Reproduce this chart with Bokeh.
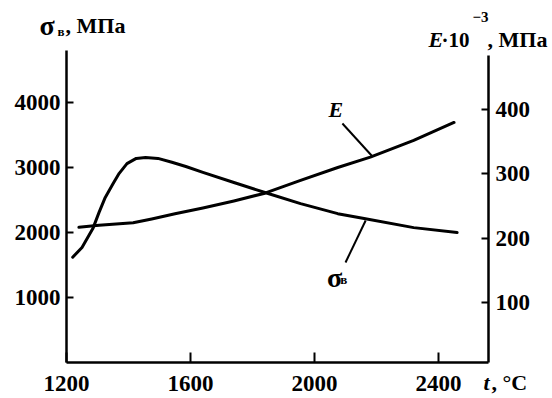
from bokeh.plotting import figure
from bokeh.models import Range1d, LinearAxis, FixedTicker, Label
from bokeh.embed import file_html
from bokeh.resources import INLINE

# ---- data ----
temp_sigma = [1220, 1250, 1285, 1305, 1325, 1350, 1370, 1395, 1425, 1455, 1495,
              1540, 1585, 1640, 1740, 1840, 1955, 2075, 2160, 2320, 2460]
sigma_b = [1620, 1770, 2060, 2310, 2540, 2750, 2910, 3060, 3140, 3155, 3140,
           3080, 3015, 2925, 2770, 2615, 2445, 2290, 2215, 2075, 2000]

temp_e = [1240, 1305, 1415, 1475, 1550, 1640, 1740, 1840, 1955, 2075, 2180, 2320, 2450]
e_modulus = [217, 220, 224, 230, 238, 247, 258, 270, 290, 310, 326, 352, 380]

x_ticks = [1200, 1600, 2000, 2400]
sigma_ticks = [1000, 2000, 3000, 4000]
e_ticks = [100, 200, 300, 400]

# axis extents
t_bounds = (1200, 2561)
sigma_bounds = (0, 4800)
e_bounds = (6.7, 484)

# annotation anchors (data units of temperature / sigma axis)
e_label_pos = (2045, 3890)
e_leader_x = [2090, 2187]
e_leader_y = [3677, 3169]
s_label_pos = (2040, 1310)
s_sub_pos = (2083, 1280)
s_leader_x = [2100, 2165]
s_leader_y = [1538, 2185]

FONT = "Liberation Serif"

# the frame fills the canvas; axes are pinned with fixed_location
p = figure(width=552, height=398, output_backend="svg", toolbar_location=None,
           x_range=Range1d(987.1, 2767.7), y_range=Range1d(-553.8, 5569.2),
           x_axis_type=None, y_axis_type=None,
           min_border=0)
p.outline_line_color = None
p.background_fill_color = "white"
p.border_fill_color = "white"
p.extra_y_ranges = {"E": Range1d(-49.3, 569.7)}


def style_axis(ax, tick_in):
    ax.axis_line_width = 2.5
    ax.axis_line_color = "black"
    ax.major_tick_in = tick_in
    ax.major_tick_out = 0
    ax.major_tick_line_width = 2
    ax.minor_tick_line_color = None
    ax.major_label_text_font = FONT
    ax.major_label_text_font_style = "bold"
    ax.major_label_text_font_size = "23px"
    ax.major_label_text_color = "black"


xb = LinearAxis(ticker=FixedTicker(ticks=x_ticks), fixed_location=sigma_bounds[0],
                bounds=t_bounds)
style_axis(xb, 10)
xb.major_label_standoff = 13
p.add_layout(xb, "below")

yl = LinearAxis(ticker=FixedTicker(ticks=sigma_ticks), fixed_location=t_bounds[0],
                bounds=sigma_bounds)
style_axis(yl, 7)
yl.major_label_standoff = 6
p.add_layout(yl, "left")

yr = LinearAxis(ticker=FixedTicker(ticks=e_ticks), y_range_name="E",
                fixed_location=t_bounds[1], bounds=e_bounds)
style_axis(yr, 7)
yr.major_label_standoff = 7
p.add_layout(yr, "right")

p.line(temp_sigma, sigma_b, line_color="black", line_width=3, line_cap="round", line_join="round")
p.line(temp_e, e_modulus, y_range_name="E", line_color="black", line_width=3,
       line_cap="round", line_join="round")

p.line(e_leader_x, e_leader_y, line_color="black", line_width=2)
p.line(s_leader_x, s_leader_y, line_color="black", line_width=2)


def lab(x, y, text, size, style="bold", units="data"):
    p.add_layout(Label(x=x, y=y, x_units=units, y_units=units, text=text,
                       text_font=FONT, text_font_style=style,
                       text_font_size=size, text_color="black",
                       text_align="left", text_baseline="alphabetic"))


# in-plot curve labels
lab(e_label_pos[0], e_label_pos[1], "E", "22px", "bold italic")
lab(s_label_pos[0], s_label_pos[1], "σ", "28px")
lab(s_sub_pos[0], s_sub_pos[1], "в", "13px")

# left axis title  σв, МПа  (canvas pixels)
lab(39, 25, "σ", "28px", units="canvas")
lab(57, 31, "в", "13px", units="canvas")
lab(65, 25, ", МПа", "22px", units="canvas")

# right axis title  E·10^-3, МПа
lab(428, 39, "E", "22px", "bold italic", units="canvas")
lab(441, 39, "·10", "21px", units="canvas")
lab(472, 16, "−3", "15px", units="canvas")
lab(487, 39, ", МПа", "22px", units="canvas")

# x axis title  t, °C
lab(483, 382, "t", "22px", "bold italic", units="canvas")
lab(491, 382, ", °C", "22px", units="canvas")

open("out.html", "w").write(file_html(p, INLINE))
